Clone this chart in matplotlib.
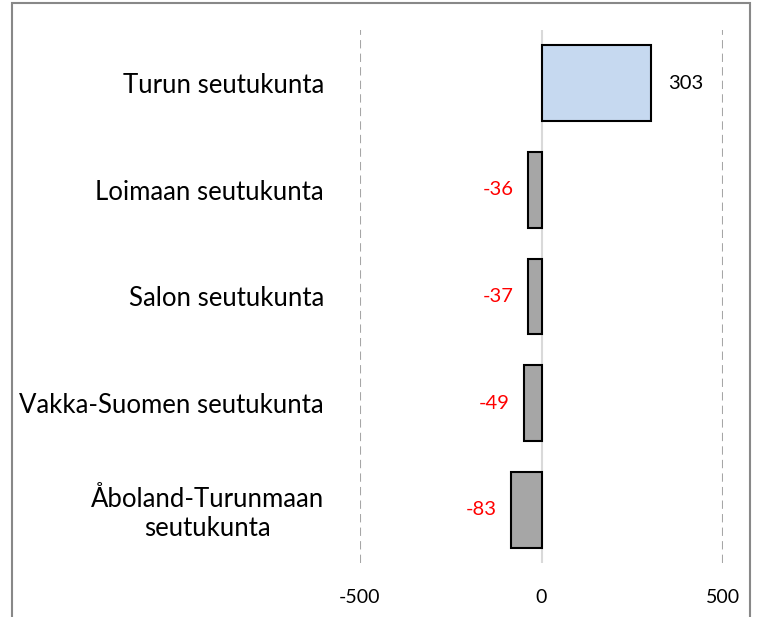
import matplotlib.pyplot as plt
from matplotlib.patches import Rectangle

regions = ["Turun seutukunta", "Loimaan seutukunta", "Salon seutukunta",
           "Vakka-Suomen seutukunta", "Åboland-Turunmaan\nseutukunta"]
values = [303, -36, -37, -49, -83]
ticks = [-500, 0, 500]

plt.rcParams['font.family'] = ['Lato', 'DejaVu Sans']

fig = plt.figure(figsize=(7.61, 6.17), dpi=100)
ax = fig.add_axes([360 / 761, 54 / 617, 363 / 761, 533 / 617])

pos = list(range(len(regions)))[::-1]
colors = ['#C6D9F0' if v > 0 else '#A6A6A6' for v in values]
ax.barh(pos, values, height=0.71, color=colors, edgecolor='black', linewidth=1.5, zorder=3)

for p, v in zip(pos, values):
    if v > 0:
        ax.text(v + 45, p, str(v), ha='left', va='center', fontsize=14.5, color='black')
    else:
        ax.text(v - 40, p, str(v), ha='right', va='center', fontsize=14.5, color='red')

ax.set_xlim(-500, 500)
ax.set_ylim(-0.5, len(regions) - 0.5)
ax.set_xticks(ticks)
ax.set_xticklabels([str(t) for t in ticks], fontsize=14)
ax.set_yticks(pos)
ax.set_yticklabels(regions, fontsize=18.5, ha='right', multialignment='center')
ax.tick_params(axis='y', length=0, pad=26)
ax.tick_params(axis='x', length=0, pad=19)
for s in ax.spines.values():
    s.set_visible(False)

for t in [-500, 500]:
    ax.axvline(t, color='#A6A6A6', linestyle=(0, (4, 2.5)), linewidth=1.5, zorder=1)
ax.axvline(0, color='#D9D9D9', linewidth=1.5, zorder=2)

fig.patches.append(Rectangle((12 / 761, -0.05), 738 / 761, 1.05 - 3 / 617,
                             transform=fig.transFigure, fill=False,
                             edgecolor='#888888', linewidth=1.5))

fig.savefig('out.png', dpi=100)
